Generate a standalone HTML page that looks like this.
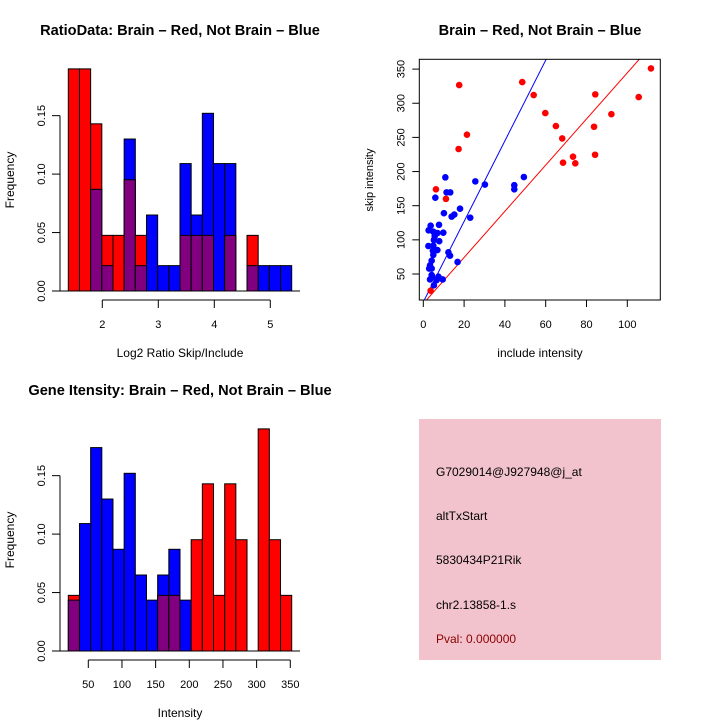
<!DOCTYPE html>
<html><head><meta charset="utf-8"><style>
body{margin:0;background:#fff}
svg{display:block;font-family:"Liberation Sans",sans-serif}
</style></head><body>
<svg id="c" width="720" height="720" viewBox="0 0 720 720">
<text x="180" y="35" text-anchor="middle" font-size="14.6" font-weight="bold">RatioData: Brain – Red, Not Brain – Blue</text>
<text x="540" y="35" text-anchor="middle" font-size="14.6" font-weight="bold">Brain – Red, Not Brain – Blue</text>
<text x="180" y="395" text-anchor="middle" font-size="14.6" font-weight="bold">Gene Itensity: Brain – Red, Not Brain – Blue</text>
<text x="180" y="357" text-anchor="middle" font-size="12">Log2 Ratio Skip/Include</text>
<text x="180" y="717" text-anchor="middle" font-size="12">Intensity</text>
<text transform="translate(14,180) rotate(-90)" text-anchor="middle" font-size="12">Frequency</text>
<text transform="translate(14,540) rotate(-90)" text-anchor="middle" font-size="12">Frequency</text>
<text x="540" y="357" text-anchor="middle" font-size="12">include intensity</text>
<text transform="translate(373,180) rotate(-90)" text-anchor="middle" font-size="11">skip intensity</text>
<g>
<rect x="419" y="419" width="242" height="241" fill="#f2c3cd"/>
<text x="436" y="476" font-size="12">G7029014@J927948@j_at</text>
<text x="436" y="520" font-size="12">altTxStart</text>
<text x="436" y="564" font-size="12">5830434P21Rik</text>
<text x="436" y="609" font-size="12">chr2.13858-1.s</text>
<text x="436" y="643" font-size="12" fill="#8b0000">Pval: 0.000000</text>
</g>
</svg>
<script>
// Ratio histogram data (bins 1.4..5.4 step 0.2)
const ratioBreakStart = 1.4;
const ratioBinWidth = 0.2;
const ratioRed = [0.190,0.190,0.143,0.0476,0.0476,0.0952,0.0476,0,0,0,0.0476,0.0476,0.0476,0,0.0476,0,0.0476,0,0,0];
const ratioBlue = [0,0,0.087,0.0217,0,0.130,0.0217,0.065,0.0217,0.0217,0.109,0.065,0.152,0.109,0.109,0,0.0217,0.0217,0.0217,0.0217];
const ratioXTicks = [2,3,4,5];
const freqTicks = [0,0.05,0.10,0.15];
const freqTickLabels = ["0.00","0.05","0.10","0.15"];
// Intensity histogram data
const intBreakStart = 20.3;
const intBinWidth = 16.6;
const intRed = [0.0476,0,0,0,0,0,0,0,0.0476,0.0476,0,0.0952,0.143,0.0476,0.143,0.0952,0,0.190,0.0952,0.0476];
const intBlue = [0.0435,0.109,0.174,0.130,0.087,0.152,0.065,0.0435,0.065,0.087,0.0435,0,0,0,0,0,0,0,0,0];
const intXTicks = [50,100,150,200,250,300,350];
// Scatter data
const redInclude = [17.6,21.4,17.3,48.5,54.1,59.8,65.0,68.1,68.5,73.4,74.5,83.7,84.3,84.2,92.2,105.6,111.6,6.2,11.1,3.6];
const redSkip = [326.6,254,233,331,312,285.6,266.6,248.5,213,221.7,212,265.6,313,224.6,284,309,351,174,160,25.6];
const blueInclude = [10.8,49.3,25.5,30.2,44.6,44.6,5.9,11.4,13.2,18.0,15.2,13.9,23.0,10.1,3.6,7.7,2.6,4.9,9.8,6.9,5.6,5.2,2.5,4.9,7.8,6.2,4.7,6.9,12.3,13.1,4.9,4.1,3.3,16.8,2.9,4.1,3.3,4.2,7.4,9.5,6.5,5.2,4.1];
const blueSkip = [191.5,192,185.6,181,180,174,161.7,169.5,169.5,145.6,137,134,132.4,139,120.7,122,114,112,110.5,110,105.6,99.8,91,91.5,98,85,84,85,81.7,76.8,78,69.5,62.7,67.6,58,58,42,46,46,42,41,33.4,48.5];
const blueFit = [9, 5.9];  // intercept, slope
const redFit = [6.6, 3.38];
const scatterXTicks = [0,20,40,60,80,100];
const scatterYTicks = [50,100,150,200,250,300,350];

const NS = "http://www.w3.org/2000/svg";
const svg = document.getElementById('c');
function mk(tag, attrs, parent){const e=document.createElementNS(NS,tag);for(const k in attrs)e.setAttribute(k,attrs[k]);(parent||svg).appendChild(e);return e;}

function hist(g, y0, breakStart, bw, red, blue, xScaleStart, xScaleK, xTicks, name){
  const x = v => 68.3 + (v - breakStart) * (11.17 / bw);
  const y = f => y0 - f * 1169;
  for(let i=0;i<red.length;i++){
    const a=breakStart+i*bw, b=a+bw, r=red[i], bl=blue[i];
    const hi=Math.max(r,bl), lo=Math.min(r,bl);
    if(hi>0){
      const el=mk('rect',{x:x(a),y:y(hi),width:x(b)-x(a),height:y(0)-y(hi),fill:r>=bl?'#ff0000':'#0000ff',stroke:'#000','stroke-width':1},g);
      
      
    }
    if(lo>0){
      const el=mk('rect',{x:x(a),y:y(lo),width:x(b)-x(a),height:y(0)-y(lo),fill:'#800080',stroke:'#000','stroke-width':1},g);
      
      
    }
  }
  mk('line',{x1:60,x2:300,y1:y0,y2:y0,stroke:'#000'},g);
  mk('line',{x1:60,x2:60,y1:y(0),y2:y(0.15),stroke:'#000'},g);
  freqTicks.forEach((t,i)=>{
    mk('line',{x1:52,x2:60,y1:y(t),y2:y(t),stroke:'#000'},g);
    const tx=mk('text',{transform:`translate(45,${y(t)}) rotate(-90)`,'text-anchor':'middle','font-size':11},g);
    tx.textContent=freqTickLabels[i];
    
    
  });
  const ax=v=>xScaleStart+(v-xTicks[0])*xScaleK;
  const ay=y0+9;
  mk('line',{x1:ax(xTicks[0]),x2:ax(xTicks[xTicks.length-1]),y1:ay,y2:ay,stroke:'#000'},g);
  xTicks.forEach(t=>{
    mk('line',{x1:ax(t),x2:ax(t),y1:ay,y2:ay+8,stroke:'#000'},g);
    const tx=mk('text',{x:ax(t),y:ay+28,'text-anchor':'middle','font-size':11},g);
    tx.textContent=t;
    
    
  });
}
const g1=mk('g',{});


hist(g1,291,ratioBreakStart,ratioBinWidth,ratioRed,ratioBlue,102.3,56,ratioXTicks,'ratio');
const g2=mk('g',{});


hist(g2,651,intBreakStart,intBinWidth,intRed,intBlue,88.3,0.6733,intXTicks,'intensity');

const g3=mk('g',{});


const sx=v=>423.3+v*2.04, sy=v=>274-(v-50)*0.683;
const L=419.3,R=660.3,T=59.3,B=300;
const clip=mk('clipPath',{id:'sc'},g3);
mk('rect',{x:L,y:T,width:R-L,height:B-T},clip);
function fitLine(f,col,name){
  const x0=-10,x1=130;
  const el=mk('line',{x1:sx(x0),y1:sy(f[0]+f[1]*x0),x2:sx(x1),y2:sy(f[0]+f[1]*x1),stroke:col,'stroke-width':1,'clip-path':'url(#sc)'},g3);
  
  
}
fitLine(blueFit,'#0000ff','blue-fit-line');
fitLine(redFit,'#ff0000','red-fit-line');
redInclude.forEach((v,i)=>{
  const el=mk('circle',{cx:sx(v),cy:sy(redSkip[i]),r:3.3,fill:'#ff0000'},g3);
  
  
});
blueInclude.forEach((v,i)=>{
  const el=mk('circle',{cx:sx(v),cy:sy(blueSkip[i]),r:3.3,fill:'#0000ff'},g3);
  
  
});
mk('rect',{x:L,y:T,width:R-L,height:B-T,fill:'none',stroke:'#000'},g3);
scatterXTicks.forEach(t=>{
  mk('line',{x1:sx(t),x2:sx(t),y1:B,y2:B+7,stroke:'#000'},g3);
  const tx=mk('text',{x:sx(t),y:B+28,'text-anchor':'middle','font-size':11},g3);
  tx.textContent=t;
  
  
});
scatterYTicks.forEach(t=>{
  mk('line',{x1:L-7,x2:L,y1:sy(t),y2:sy(t),stroke:'#000'},g3);
  const tx=mk('text',{transform:`translate(${L-15},${sy(t)}) rotate(-90)`,'text-anchor':'middle','font-size':11},g3);
  tx.textContent=t;
  
  
});
</script>
</body></html>
